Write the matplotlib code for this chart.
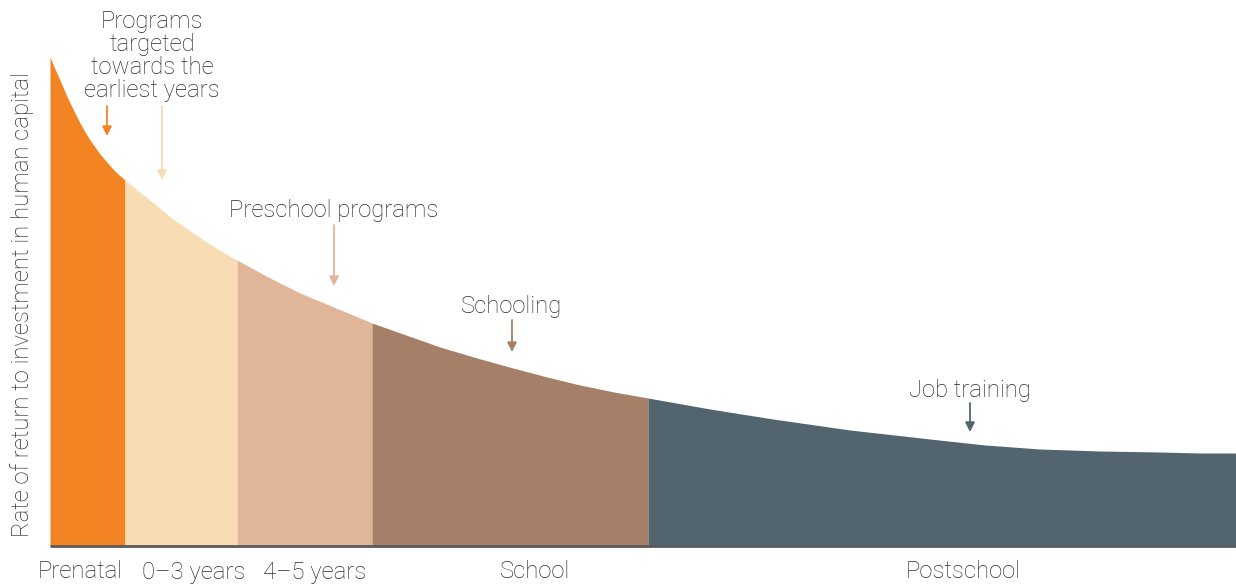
import matplotlib
matplotlib.use("Agg")
import matplotlib.pyplot as plt

plt.rcParams['font.family'] = ['Roboto', 'DejaVu Sans']

# Return curve: position along the life cycle vs. rate of return
curve_x = [0, 5, 10, 15, 20, 25, 30, 35, 40, 45, 50, 56, 62, 68, 75, 87, 100, 112,
           123, 139, 155, 171, 187, 218, 250, 286, 322, 356, 390, 427, 463, 497,
           530, 564, 598, 660, 723, 800, 880, 935, 990, 1050, 1110, 1150, 1186]
curve_y = [489, 477, 466, 454, 443, 433, 423, 414, 406, 399, 392, 385, 378, 372,
           366, 356, 346, 336, 327, 316, 305, 295, 286, 269, 253, 238, 223, 211,
           199, 188, 178, 169, 161, 154, 148, 137, 127, 116, 107, 101, 97, 95,
           94, 93, 93]

# Life-cycle stages
stage_names = ["Prenatal", "0\u20133 years", "4\u20135 years", "School", "Postschool"]
stage_bounds = [0, 75, 187, 322, 598, 1186]
stage_label_x = [30, 144, 265, 485, 913]
stage_colors = ["#F28423", "#F8DCB3", "#E1B598", "#A57F67", "#52646E"]

# Program annotations
notes = ["Programs\ntargeted\ntowards the\nearliest years", "Preschool programs",
         "Schooling", "Job training"]
note_x = [102, 284, 462, 920]
note_y = [490, 335, 239, 155]

arrow_x = [57, 112, 284, 462, 920]
arrow_from = [440, 440, 321, 226, 143]
arrow_to = [410, 366, 260, 194, 114]
arrow_colors = ["#F28423", "#F8DCB3", "#E1B598", "#A57F67", "#52646E"]

fig = plt.figure(figsize=(12.36, 5.85), dpi=100)
ax = fig.add_axes([50 / 1236, 39 / 585, 1186 / 1236, 546 / 585])
ax.set_xlim(0, 1186)
ax.set_ylim(0, 546)
ax.axis("off")

for i, color in enumerate(stage_colors):
    lo, hi = stage_bounds[i], stage_bounds[i + 1]
    xs = [x for x in curve_x if lo <= x <= hi]
    ys = [y for x, y in zip(curve_x, curve_y) if lo <= x <= hi]
    ax.fill_between(xs, 0, ys, color=color, lw=0)

# baseline
ax.plot([0, 1186], [0, 0], color="#5a5a5a", lw=2, solid_capstyle="butt", clip_on=False)

text_color = "#2b2b2b"
fs = 17.2
fw = "light"

for name, x in zip(stage_names, stage_label_x):
    ax.text(x, -26, name, ha="center", va="center", fontsize=fs, color=text_color,
            fontweight=fw, clip_on=False)

for t, x, y in zip(notes, note_x, note_y):
    ax.text(x, y, t, ha="center", va="center", fontsize=fs, color=text_color,
            fontweight=fw, linespacing=1.0, clip_on=False)

for x, y0, y1, c in zip(arrow_x, arrow_from, arrow_to, arrow_colors):
    ax.annotate("", xy=(x, y1), xytext=(x, y0),
                arrowprops=dict(arrowstyle="-|>", color=c, lw=1.3,
                                mutation_scale=14, shrinkA=0, shrinkB=0))

fig.text(22 / 1236, 1 - 305 / 585, "Rate of return to investment in human capital",
         rotation=90, ha="center", va="center", fontsize=fs, color=text_color,
         fontweight=fw)

fig.savefig("out.png", dpi=100, facecolor="white")
